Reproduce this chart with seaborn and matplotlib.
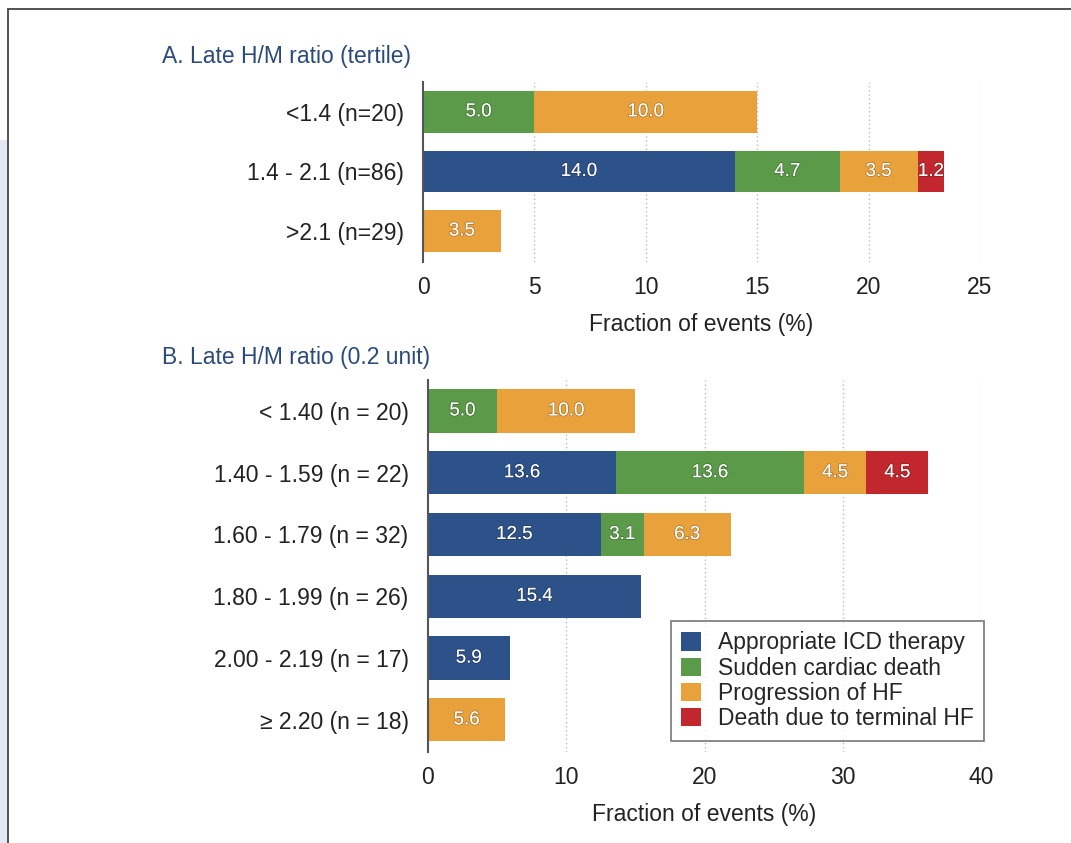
import matplotlib
matplotlib.use("Agg")
import matplotlib.pyplot as plt
import matplotlib.patches as mpatches
import matplotlib.patheffects as pe
import numpy as np
import pandas as pd
import seaborn as sns

# categories (legend order)
events = ["Appropriate ICD therapy", "Sudden cardiac death", "Progression of HF", "Death due to terminal HF"]
colores = ["#2d5189", "#5b9a48", "#e9a23b", "#c1272d"]

# A. tertile
grupos_a = ["<1.4 (n=20)", "1.4 - 2.1 (n=86)", ">2.1 (n=29)"]
icd_a = [0.0, 14.0, 0.0]
scd_a = [5.0, 4.7, 0.0]
hf_a = [10.0, 3.5, 3.5]
term_a = [0.0, 1.2, 0.0]

# B. 0.2 unit
grupos_b = ["< 1.40 (n = 20)", "1.40 - 1.59 (n = 22)", "1.60 - 1.79 (n = 32)",
            "1.80 - 1.99 (n = 26)", "2.00 - 2.19 (n = 17)", "\u2265 2.20 (n = 18)"]
icd_b = [0.0, 13.6, 12.5, 15.4, 5.9, 0.0]
scd_b = [5.0, 13.6, 3.1, 0.0, 0.0, 0.0]
hf_b = [10.0, 4.5, 6.3, 0.0, 0.0, 5.6]
term_b = [0.0, 4.5, 0.0, 0.0, 0.0, 0.0]

sns.set_theme(style="white")
plt.rcParams["font.family"] = ["Liberation Sans", "DejaVu Sans"]

FS = 16.5

fig = plt.figure(figsize=(10.71, 8.43), dpi=100)

# moldura
fig.patches.append(mpatches.Rectangle((0, 0), 8 / 1071, 1 - 140 / 843, transform=fig.transFigure,
                                      facecolor="#e4e9f1", edgecolor="none", zorder=0))
fig.patches.append(mpatches.Rectangle((8 / 1071, -0.01), 1.1, 1 - 9 / 843 + 0.01, transform=fig.transFigure,
                                      facecolor="none", edgecolor="#444444", linewidth=1.3, zorder=1))


def painel(ax, grupos, series, xmax, passo):
    df = pd.DataFrame(dict(zip(events, series)), index=grupos)
    acum = df.cumsum(axis=1)
    # barras empilhadas: desenha do acumulado maior para o menor
    for ev, cor in reversed(list(zip(events, colores))):
        d = pd.DataFrame({"grupo": grupos, "valor": acum[ev].values})
        sns.barplot(data=d, x="valor", y="grupo", color=cor, width=0.7, ax=ax,
                    order=grupos, saturation=1, linewidth=0, zorder=3)
    for i, g in enumerate(grupos):
        for ev in events:
            v = df.loc[g, ev]
            if v > 0:
                ax.text(acum.loc[g, ev] - v / 2, i, f"{v:.1f}", ha="center", va="center",
                        color="white", fontsize=13.5, zorder=5,
                        path_effects=[pe.withStroke(linewidth=1.2, foreground=(0, 0, 0, 0.25))])
    ax.set_xlim(0, xmax)
    ax.set_ylim(len(grupos) - 0.48, -0.5)
    ax.set_xticks(np.arange(0, xmax + 1, passo))
    ax.set_xlabel("")
    ax.set_ylabel("")
    for x in np.arange(passo, xmax + 1, passo):
        ax.axvline(x, color="#bbbbbb", linestyle=(0, (1, 2)), linewidth=1, zorder=1)
    for s in ["top", "right", "bottom"]:
        ax.spines[s].set_visible(False)
    ax.spines["left"].set_color("#555555")
    ax.spines["left"].set_linewidth(1.5)
    ax.spines["left"].set_zorder(6)
    ax.tick_params(axis="x", length=0, labelsize=FS, pad=10, colors="#222222")
    ax.tick_params(axis="y", length=0, labelsize=FS, pad=14, colors="#222222")


ax_a = fig.add_axes([423 / 1071, 1 - 262 / 843, 557 / 1071, 180 / 843])
painel(ax_a, grupos_a, [icd_a, scd_a, hf_a, term_a], 25, 5)

ax_b = fig.add_axes([428 / 1071, 1 - 752 / 843, 553 / 1071, 372 / 843])
painel(ax_b, grupos_b, [icd_b, scd_b, hf_b, term_b], 40, 10)

fig.text(162 / 1071, 1 - 57 / 843, "A. Late H/M ratio (tertile)", color="#2b4a7c", fontsize=FS, va="center")
fig.text(162 / 1071, 1 - 357 / 843, "B. Late H/M ratio (0.2 unit)", color="#2b4a7c", fontsize=FS, va="center")
fig.text(701 / 1071, 1 - 325 / 843, "Fraction of events (%)", color="#222222", fontsize=FS, ha="center", va="center")
fig.text(704 / 1071, 1 - 815 / 843, "Fraction of events (%)", color="#222222", fontsize=FS, ha="center", va="center")

handles = [mpatches.Patch(facecolor=c, edgecolor="none", label=e) for e, c in zip(events, colores)]
leg = ax_b.legend(handles=handles, loc="upper left", bbox_to_anchor=(671 / 1071, 1 - 621 / 843),
                  bbox_transform=fig.transFigure, fontsize=FS, frameon=True, fancybox=False,
                  handlelength=0.85, handleheight=0.85, handletextpad=0.75, labelspacing=0.1,
                  borderpad=0.45, borderaxespad=0)
leg.get_frame().set_edgecolor("#555555")
leg.get_frame().set_linewidth(1.2)
leg.set_zorder(10)

fig.savefig("out.png", dpi=100)
